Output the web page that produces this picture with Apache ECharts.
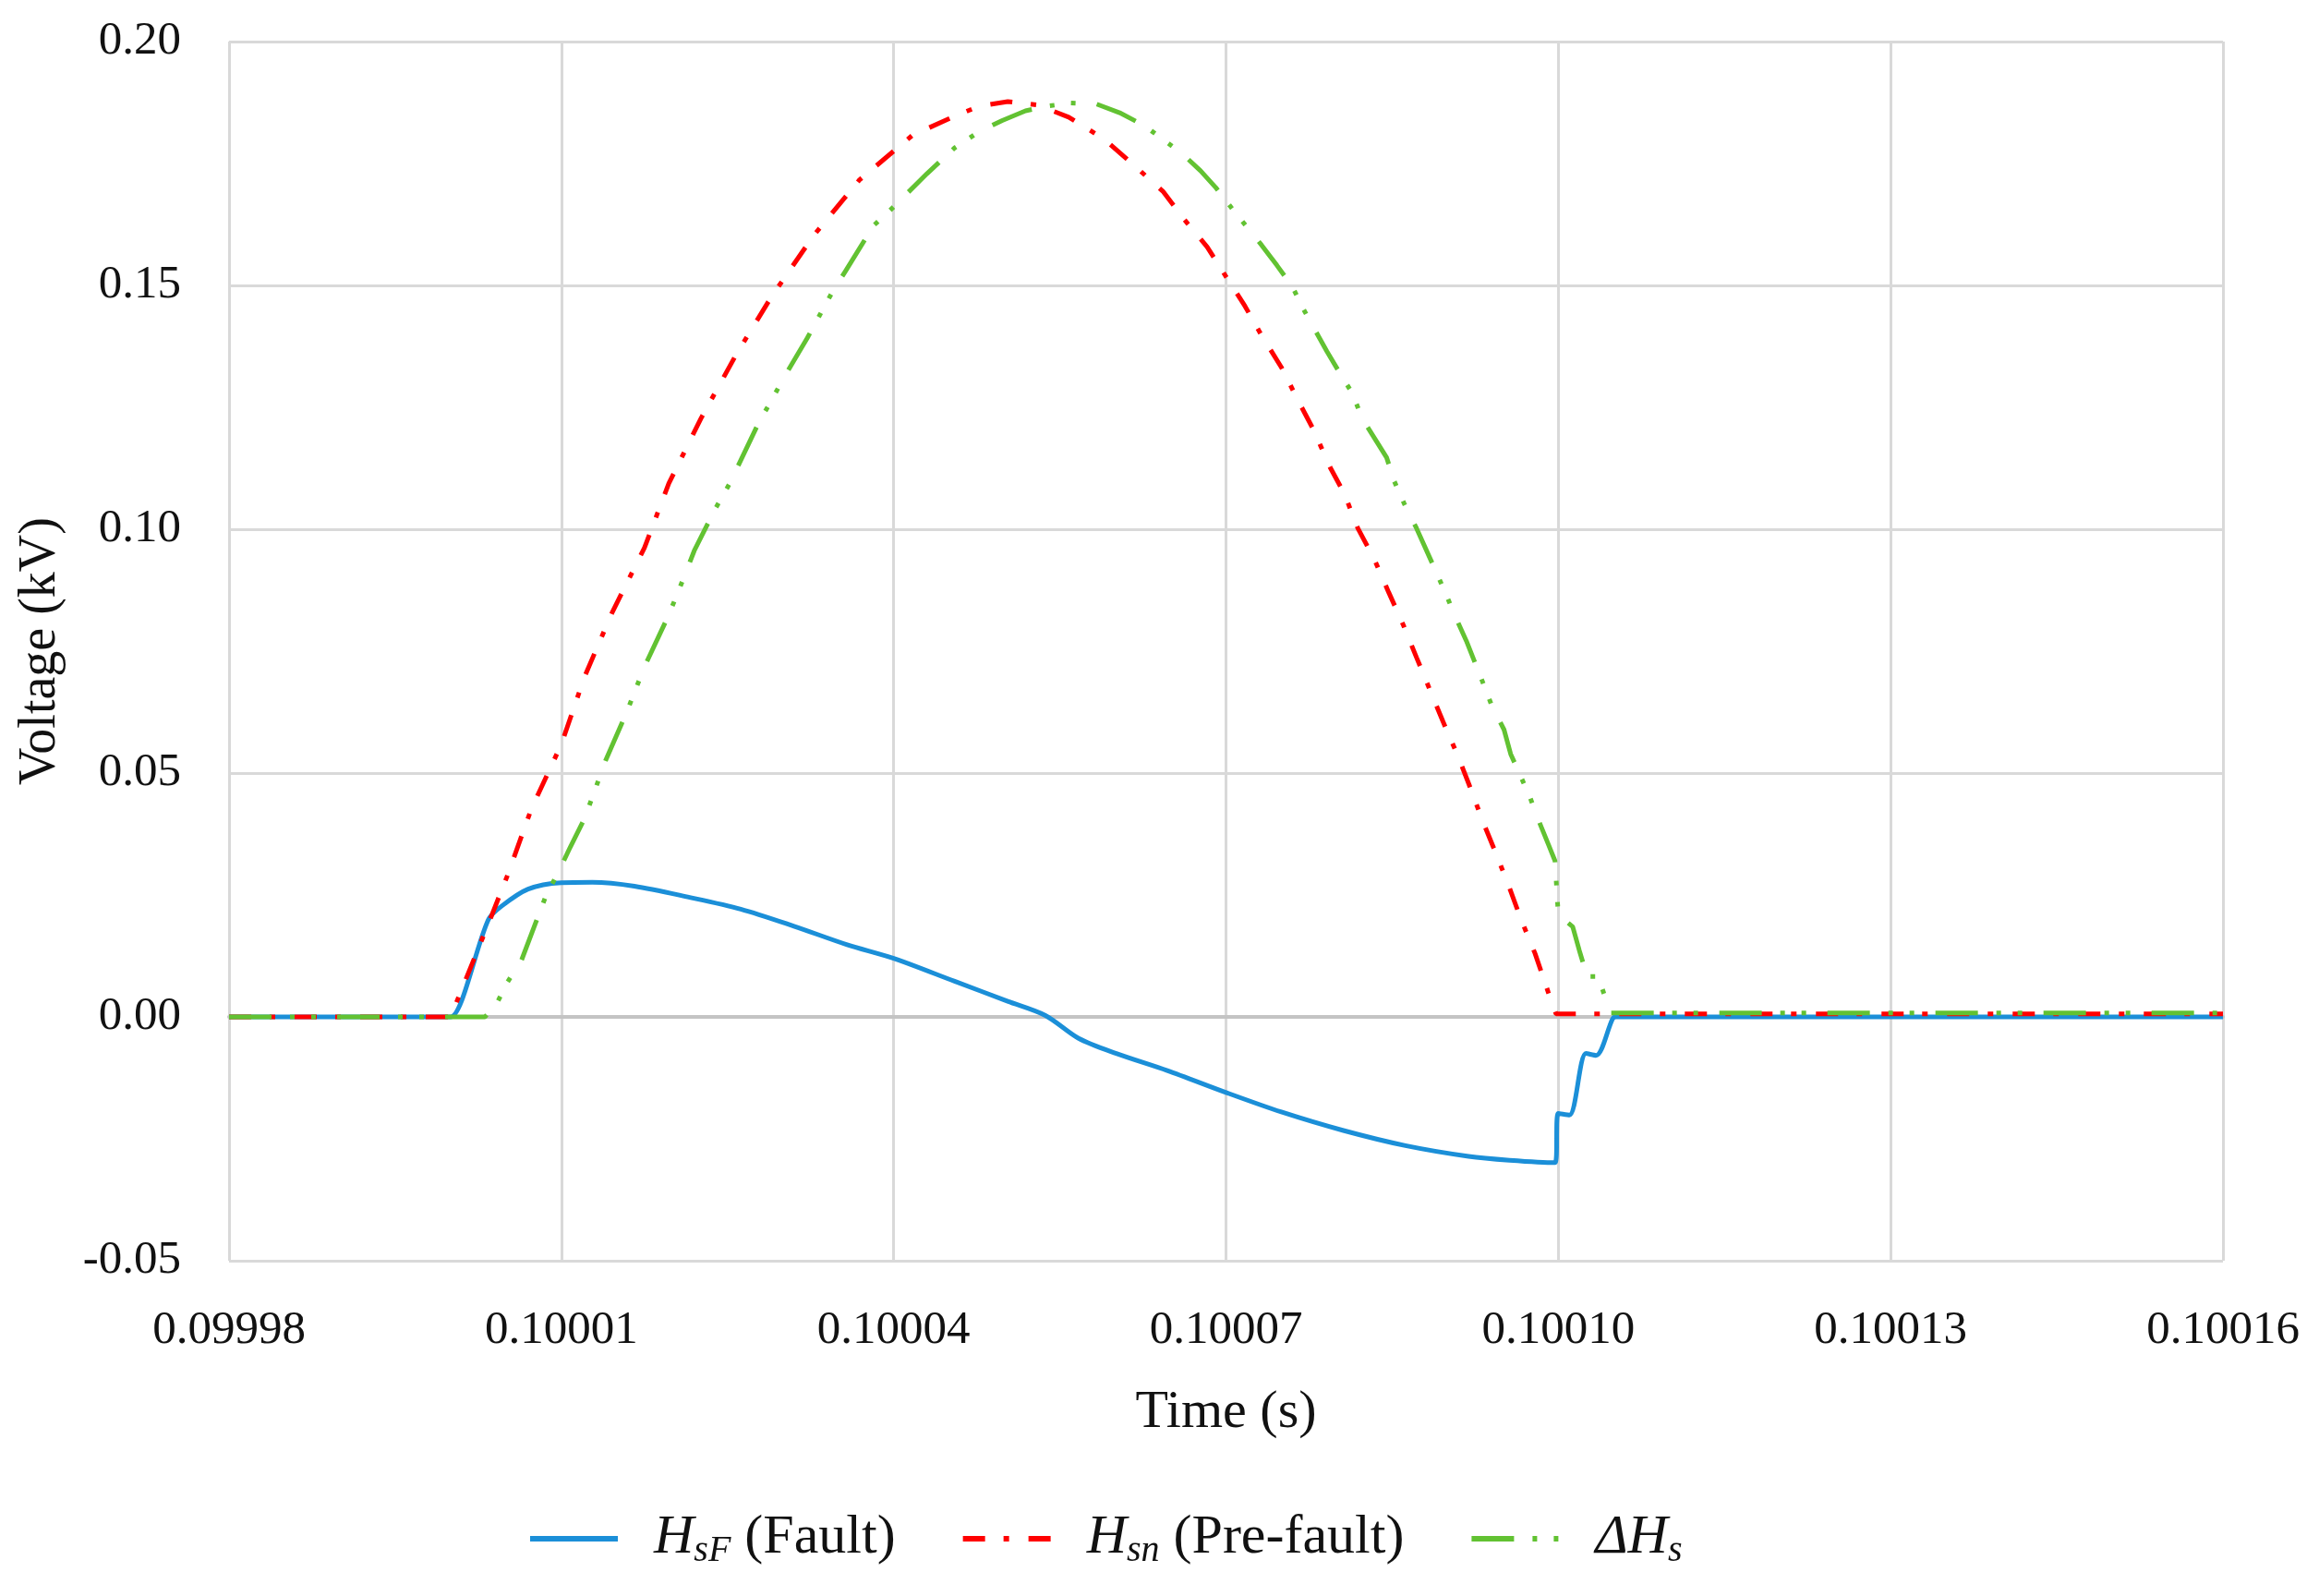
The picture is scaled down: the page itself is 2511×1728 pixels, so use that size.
<!DOCTYPE html>
<html>
<head>
<meta charset="utf-8">
<script src="https://cdn.jsdelivr.net/npm/echarts@6.0.0/dist/echarts.min.js"></script>
<style>
  html, body { margin: 0; padding: 0; background: #fff; }
  #chart { width: 2511px; height: 1728px; }
</style>
</head>
<body>
<div id="chart"></div>
<script>
// time axis ticks (s)
var timeMin = 0.09998;
var timeMax = 0.10016;
var timeStep = 0.00003;

// H_sF (Fault)
var faultTime = [0.09998, 0.0999998, 0.10000, 0.1000034, 0.1000046, 0.100007, 0.10001, 0.1000128,
  0.1000166, 0.1000214, 0.1000262, 0.100031, 0.1000358, 0.10004, 0.1000455, 0.1000503, 0.1000537,
  0.1000567, 0.1000601, 0.1000647, 0.10007, 0.100075, 0.1000806, 0.1000862,
  0.1000919, 0.1000956, 0.1000997, 0.10010, 0.100101, 0.1001025, 0.1001034, 0.1001049, 0.1001052, 0.10016];
var faultVolt = [0, 0, 0, 0.0199, 0.0227, 0.0262, 0.0275, 0.0276,
  0.0268, 0.0246, 0.0221, 0.0186, 0.0148, 0.0120, 0.0073, 0.0032, 0.0003,
  -0.0044, -0.0075, -0.0110, -0.0155, -0.0195, -0.0233, -0.0264,
  -0.0286, -0.0294, -0.0299, -0.0198, -0.0201, -0.0075, -0.0079, -0.0004, 0, 0];

// H_sn (Pre-fault)
var preTime = [0.09998, 0.10000, 0.1000035, 0.1000051, 0.1000073, 0.10001, 0.1000121, 0.1000146,
  0.1000175, 0.1000197, 0.1000226, 0.1000258, 0.100029, 0.1000328, 0.1000369, 0.1000417, 0.1000456,
  0.1000478, 0.1000503, 0.100053, 0.1000558, 0.100059, 0.100062, 0.1000643, 0.1000662, 0.1000683,
  0.1000702, 0.1000717, 0.1000732, 0.100075, 0.1000766, 0.1000779, 0.1000794, 0.1000807, 0.1000819,
  0.1000834, 0.1000847, 0.100086, 0.1000872, 0.1000884, 0.1000896, 0.1000909, 0.100092, 0.1000932,
  0.1000945, 0.1000956, 0.1000966, 0.1000979, 0.1000991, 0.1000998, 0.10016];
var preVolt = [0, 0, 0.0196, 0.0288, 0.0427, 0.0559, 0.0698, 0.0830,
  0.0962, 0.1094, 0.1227, 0.1359, 0.1478, 0.1603, 0.1716, 0.1808, 0.1848,
  0.1868, 0.1877, 0.1870, 0.1845, 0.1800, 0.1740, 0.1693, 0.1636, 0.1579,
  0.1511, 0.1458, 0.1398, 0.1332, 0.1260, 0.1204, 0.1127, 0.1072, 0.1002,
  0.0938, 0.0870, 0.0804, 0.0737, 0.0671, 0.0605, 0.0537, 0.0473, 0.0400,
  0.0328, 0.0264, 0.0202, 0.0130, 0.0050, 0.0006, 0.0006];

// delta H_s
var deltaTime = [0.09998, 0.1000031, 0.1000041, 0.1000051, 0.1000064, 0.1000086, 0.1000098, 0.1000108,
  0.1000121, 0.100014, 0.1000159, 0.1000175, 0.1000194, 0.1000204, 0.100022, 0.1000239, 0.1000252,
  0.1000277, 0.1000303, 0.1000322, 0.1000344, 0.1000357, 0.1000382, 0.1000395, 0.100043, 0.1000455,
  0.1000477, 0.1000498, 0.1000519, 0.100054, 0.100056, 0.1000583, 0.1000604, 0.1000626, 0.100066,
  0.1000677, 0.1000691, 0.1000706, 0.1000732, 0.1000746, 0.100076, 0.100077, 0.1000791, 0.1000802,
  0.1000814, 0.1000823, 0.1000845, 0.1000852, 0.1000861, 0.1000872, 0.1000889, 0.1000898, 0.1000907,
  0.1000917, 0.1000932, 0.100094, 0.1000951, 0.1000957, 0.1000974, 0.1000982, 0.1000991, 0.1000997,
  0.10010, 0.1001013, 0.1001019, 0.1001026, 0.1001036, 0.1001047, 0.10016];
var deltaVolt = [0, 0, 0.0024, 0.0070, 0.0116, 0.0248, 0.0300, 0.0348,
  0.0407, 0.0526, 0.0625, 0.0718, 0.0810, 0.0863, 0.0956, 0.1042, 0.1094,
  0.1213, 0.1319, 0.1392, 0.1484, 0.1531, 0.1623, 0.1650, 0.1729, 0.1782,
  0.1815, 0.1838, 0.1858, 0.1868, 0.1874, 0.1872, 0.1854, 0.1828, 0.1771,
  0.1735, 0.1700, 0.1656, 0.1583, 0.1541, 0.1497, 0.1451, 0.1365, 0.1323,
  0.1279, 0.1227, 0.1147, 0.1098, 0.1052, 0.1002, 0.0916, 0.0870, 0.0821,
  0.0771, 0.0685, 0.0638, 0.0589, 0.0539, 0.0453, 0.0404, 0.0354, 0.0320,
  0.0209, 0.0185, 0.0136, 0.0083, 0.0083, 0.0008, 0.0008];

var seriesNames = ['HsF', 'Hsn', 'dHs'];
var legendText = {
  HsF: '{i|H}{s|sF}{t| (Fault)}',
  Hsn: '{i|H}{s|sn}{t| (Pre-fault)}',
  dHs: '{i|ΔH}{s|s}'
};

function pairs(xs, ys) {
  return xs.map(function (x, i) { return [x, ys[i]]; });
}

var dom = document.getElementById('chart');
var myChart = echarts.init(dom, null, { renderer: 'canvas' });

var serifFont = '"Liberation Serif", "DejaVu Serif", serif';
var gridColor = '#D9D9D9';

var option = {
  backgroundColor: '#ffffff',
  animation: false,
  textStyle: { fontFamily: serifFont },
  grid: {
    left: 248,
    top: 45,
    width: 2159,
    height: 1320,
    outerBoundsMode: 'none'
  },
  legend: {
    data: seriesNames,
    left: 566,
    top: 1630,
    itemWidth: 95,
    itemHeight: 20,
    itemGap: 70,
    formatter: function (name) { return legendText[name]; },
    lineStyle: { width: 6 },
    itemStyle: { opacity: 0 },
    textStyle: {
      color: '#111',
      fontFamily: serifFont,
      padding: [0, 0, 0, 34],
      rich: {
        i: { fontSize: 60, fontStyle: 'italic', fontFamily: serifFont, color: '#111', verticalAlign: 'top', lineHeight: 62 },
        s: { fontSize: 40, fontStyle: 'italic', fontFamily: serifFont, color: '#111', verticalAlign: 'top', lineHeight: 62, padding: [24, 0, 0, 0] },
        t: { fontSize: 60, fontFamily: serifFont, color: '#111', verticalAlign: 'top', lineHeight: 62 }
      }
    }
  },
  xAxis: {
    type: 'value',
    min: timeMin,
    max: timeMax,
    interval: timeStep,
    name: 'Time (s)',
    nameLocation: 'middle',
    nameGap: 136,
    nameTextStyle: { fontSize: 58, color: '#111', fontFamily: serifFont },
    axisLine: { show: true, lineStyle: { color: '#C4C4C4', width: 4 } },
    axisTick: { show: false },
    axisLabel: {
      fontSize: 51,
      color: '#111',
      margin: 50,
      fontFamily: serifFont,
      formatter: function (v) { return v.toFixed(5); }
    },
    splitLine: { show: true, lineStyle: { color: gridColor, width: 3 } }
  },
  yAxis: {
    type: 'value',
    min: -0.05,
    max: 0.20,
    interval: 0.05,
    name: 'Voltage (kV)',
    nameLocation: 'middle',
    nameRotate: 90,
    nameGap: 176,
    nameTextStyle: { fontSize: 56, color: '#111', fontFamily: serifFont },
    axisLine: { show: false },
    axisTick: { show: false },
    axisLabel: {
      fontSize: 51,
      color: '#111',
      margin: 52,
      fontFamily: serifFont,
      formatter: function (v) { return v.toFixed(2); }
    },
    splitLine: { show: true, lineStyle: { color: gridColor, width: 3 } }
  },
  series: [
    {
      name: 'HsF',
      type: 'line',
      data: pairs(faultTime, faultVolt),
      symbol: 'none',
      smooth: 0.3,
      lineStyle: { color: '#1B8FD8', width: 5 },
      itemStyle: { color: '#1B8FD8' }
    },
    {
      name: 'Hsn',
      type: 'line',
      data: pairs(preTime, preVolt),
      symbol: 'none',
      lineStyle: { color: '#FF0000', width: 5, type: [24, 20, 6, 21] },
      itemStyle: { color: '#FF0000' }
    },
    {
      name: 'dHs',
      type: 'line',
      data: pairs(deltaTime, deltaVolt),
      symbol: 'none',
      lineStyle: { color: '#62C232', width: 5, type: [46, 20, 5, 18, 5, 23] },
      itemStyle: { color: '#62C232' }
    }
  ]
};

if (option && typeof option === 'object') {
  myChart.setOption(option);
}

window.addEventListener('resize', myChart.resize);
</script>
</body>
</html>
